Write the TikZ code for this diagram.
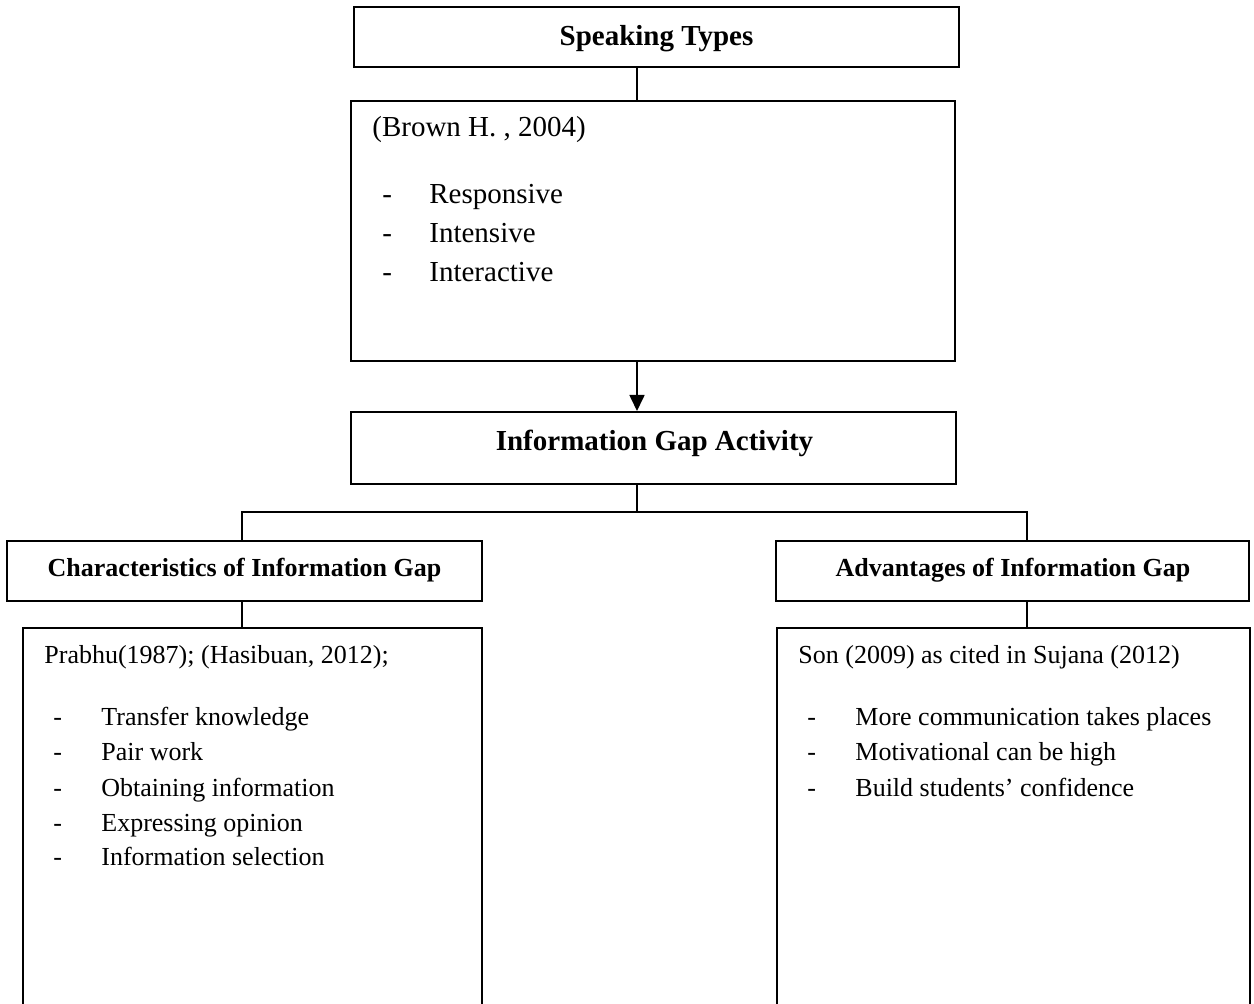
\documentclass[tikz,border=0pt]{standalone}
\usepackage{fontspec}
\setmainfont{Liberation Serif}
\usetikzlibrary{arrows.meta}
\begin{document}
\begin{tikzpicture}[x=0.5pt,y=-0.5pt,
  box/.style={draw,line width=1pt,inner sep=0pt,fill=white},
  conn/.style={line width=0.85pt},
  body/.style={anchor=base west,inner sep=0pt,font=\fontsize{13}{15}\selectfont},
  bigbody/.style={anchor=base west,inner sep=0pt,font=\fontsize{14.5}{16}\selectfont},
  ttl/.style={anchor=base,inner sep=0pt,font=\bfseries\fontsize{14.5}{16}\selectfont},
  sub/.style={anchor=base,inner sep=0pt,font=\bfseries\fontsize{13}{15}\selectfont}]
\useasboundingbox (0,0) rectangle (1254,1004);
\clip (0,0) rectangle (1254,1004);
\fill[white] (0,0) rectangle (1254,1004);
% guide coordinates
\coordinate (spine) at (637,0);
\coordinate (bus) at (0,512);
\coordinate (lx) at (242,0);
\coordinate (rx) at (1027,0);
% boxes
\node[box,minimum width=302.5pt,minimum height=30pt] (sp) at (656.5,37) {};
\node[box,minimum width=302pt,minimum height=130pt] (br) at (653,231) {};
\node[box,minimum width=302.5pt,minimum height=36pt] (ig) at (653.5,448) {};
\node[box,minimum width=237.5pt,minimum height=30pt] (ch) at (244.5,571) {};
\node[box,minimum width=236.5pt,minimum height=30pt] (ad) at (1012.5,571) {};
\node[box,minimum width=229.5pt,minimum height=216pt] (cb) at (252.5,844) {};
\node[box,minimum width=236.5pt,minimum height=216pt] (ab) at (1013.5,844) {};
% connectors
\draw[conn] (sp.south -| spine) -- (br.north -| spine);
\draw[conn,-{Triangle[length=8pt,width=7.5pt]}] (br.south -| spine) -- (ig.north -| spine);
\draw[conn] (ig.south -| spine) -- (spine |- bus);
\draw[conn] (ch.north -| lx) -- (lx |- bus) -- (rx |- bus) -- (ad.north -| rx);
\draw[conn] (ch.south -| lx) -- (cb.north -| lx);
\draw[conn] (ad.south -| rx) -- (ab.north -| rx);
% titles
\node[ttl] (spt) at (656.5,46) {Speaking Types};
\node[ttl] (igt) at (654.5,451) {Information Gap Activity};
\node[sub] (cht) at (244.5,577) {Characteristics of Information Gap};
\node[sub] (adt) at (1013,577) {Advantages of Information Gap};
% Brown box
\node[bigbody] (b0) at (372,137) {(Brown H. , 2004)};
\node[bigbody] (b1d) at (382,204) {-};
\node[bigbody] (b1) at (429,204) {Responsive};
\node[bigbody] (b2d) at (382,243) {-};
\node[bigbody] (b2) at (429,243) {Intensive};
\node[bigbody] (b3d) at (382,282) {-};
\node[bigbody] (b3) at (429,282) {Interactive};
% left bottom box
\node[body] (c0) at (44,664) {Prabhu(1987); (Hasibuan, 2012);};
\node[body] (c1d) at (53,726) {-};
\node[body] (c1) at (101,726) {Transfer knowledge};
\node[body] (c2d) at (53,761) {-};
\node[body] (c2) at (101,761) {Pair work};
\node[body] (c3d) at (53,797) {-};
\node[body] (c3) at (101,797) {Obtaining information};
\node[body] (c4d) at (53,832) {-};
\node[body] (c4) at (101,832) {Expressing opinion};
\node[body] (c5d) at (53,866) {-};
\node[body] (c5) at (101,866) {Information selection};
% right bottom box
\node[body] (a0) at (798,664) {Son (2009) as cited in Sujana (2012)};
\node[body] (a1d) at (807,726) {-};
\node[body] (a1) at (855,726) {More communication takes places};
\node[body] (a2d) at (807,761) {-};
\node[body] (a2) at (855,761) {Motivational can be high};
\node[body] (a3d) at (807,797) {-};
\node[body] (a3) at (855,797) {Build students’ confidence};
\end{tikzpicture}
\end{document}
